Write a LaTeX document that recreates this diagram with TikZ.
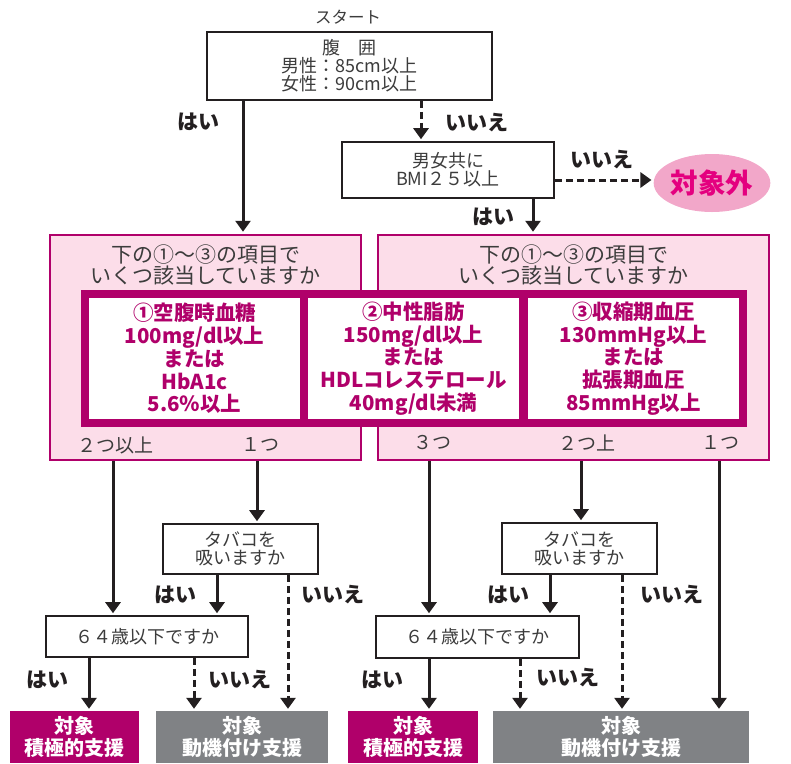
\documentclass[tikz,border=0pt]{standalone}
\usepackage{fontspec}
\setmainfont{Noto Sans CJK JP}
\usetikzlibrary{arrows.meta,shapes.geometric}
\definecolor{mag}{HTML}{B0006A}
\definecolor{pinkbg}{HTML}{FCDDE9}
\definecolor{ellfill}{HTML}{F2A7C9}
\definecolor{hotpink}{HTML}{E4007F}
\definecolor{grayb}{HTML}{808285}
\definecolor{txt}{HTML}{3C3C3C}
\definecolor{lineblk}{HTML}{231F20}
\begin{document}
\begin{tikzpicture}[x=1pt,y=-1pt,
  box/.style={draw=lineblk, line width=1.6pt, fill=white, text=txt, align=center, inner sep=0pt, font=\fontsize{18}{18}\selectfont},
  pinkbox/.style={draw=mag, line width=2.5pt, fill=pinkbg, inner sep=0pt},
  band/.style={fill=mag, inner sep=0pt},
  inbox/.style={fill=white, text=mag, inner sep=0pt, align=center, font=\bfseries\fontsize{20.5}{22.7}\selectfont},
  head/.style={text=txt, align=center, inner sep=0pt, font=\fontsize{21}{21}\selectfont},
  cnt/.style={text=txt, inner sep=0pt, font=\fontsize{19}{19}\selectfont},
  lbl/.style={text=lineblk, inner sep=0pt, font=\bfseries\fontsize{21}{21}\selectfont},
  arr/.style={line width=3pt, draw=lineblk, shorten >=2pt, -{Triangle[width=15pt,length=11pt]}},
  darr/.style={arr, dash pattern=on 7pt off 4pt},
  res/.style={text=white, inner sep=0pt, align=center, font=\bfseries\fontsize{20}{22}\selectfont}
]
\useasboundingbox (0,0) rectangle (791,763);

% start
\node[text=txt, inner sep=0pt, font=\fontsize{16.5}{16.5}\selectfont] (start) at (348,17) {スタート};
\node[box, minimum width=285, minimum height=68] (top) at (349.5,66) {腹\quad 囲\\男性：85cm以上\\女性：90cm以上};
\node[box, minimum width=212, minimum height=56] (bmi) at (448,170) {男女共に\\BMI２５以上};
\node[ellipse, fill=ellfill, minimum width=116, minimum height=58, inner sep=0pt, text=hotpink, font=\bfseries\fontsize{27.5}{27.5}\selectfont] (out) at (712,183) {対象外};

% pink boxes
\node[pinkbox, minimum width=311, minimum height=225] (lp) at (205.5,347.5) {};
\node[pinkbox, minimum width=391, minimum height=225] (rp) at (573.5,347.5) {};
\node[head] (lph) at (205.5,265) {下の①～③の項目で\\いくつ該当していますか};
\node[head] (rph) at (573.5,265) {下の①～③の項目で\\いくつ該当していますか};
\node[band, minimum width=666, minimum height=137] (band) at (414,358.5) {};
\node[inbox, minimum width=211, minimum height=121] (c1) at (194.5,358.5) {①空腹時血糖\\100mg/dl以上\\または\\HbA1c\\5.6％以上};
\node[inbox, minimum width=211, minimum height=121] (c2) at (413.5,358.5) {②中性脂肪\\150mg/dl以上\\または\\HDLコレステロール\\40mg/dl未満};
\node[inbox, minimum width=211, minimum height=121] (c3) at (633.5,358.5) {③収縮期血圧\\130mmHg以上\\または\\拡張期血圧\\85mmHg以上};
\node[cnt] (n1) at (115,445) {２つ以上};
\node[cnt] (n2) at (260,445) {１つ};
\node[cnt] (n3) at (432,443) {３つ};
\node[cnt] (n4) at (587,443) {２つ上};
\node[cnt] (n5) at (720,443) {１つ};

% lower boxes
\node[box, minimum width=155, minimum height=50] (tabL) at (240.5,549) {タバコを\\吸いますか};
\node[box, minimum width=155, minimum height=51] (tabR) at (579.5,548.5) {タバコを\\吸いますか};
\node[box, minimum width=202, minimum height=41] (ageL) at (147,636.5) {６４歳以下ですか};
\node[box, minimum width=203, minimum height=42] (ageR) at (477.5,637) {６４歳以下ですか};
\node[res, fill=mag, minimum width=129, minimum height=52] (mL) at (74.5,737) {対象\\積極的支援};
\node[res, fill=grayb, minimum width=172, minimum height=52] (gL) at (242,737) {対象\\動機付け支援};
\node[res, fill=mag, minimum width=130, minimum height=52] (mR) at (413,737) {対象\\積極的支援};
\node[res, fill=grayb, minimum width=256, minimum height=52] (gR) at (621,737) {対象\\動機付け支援};

% column coordinates
\coordinate (xa) at (243,0);
\coordinate (xb) at (421,0);
\coordinate (xc) at (533,0);
\coordinate (yr) at (0,180);
\coordinate (x1) at (113,0);
\coordinate (x2) at (257,0);
\coordinate (x3) at (217,0);
\coordinate (x4) at (288,0);
\coordinate (x5) at (89,0);
\coordinate (x6) at (194,0);
\coordinate (x7) at (429,0);
\coordinate (x8) at (581,0);
\coordinate (x9) at (550,0);
\coordinate (x10) at (622,0);
\coordinate (x11) at (719,0);
\coordinate (x12) at (520,0);

% connectors
\draw[arr] (top.south -| xa) -- (lp.north -| xa);
\draw[darr] (top.south -| xb) -- (bmi.north -| xb);
\draw[arr] (bmi.south -| xc) -- (rp.north -| xc);
\draw[darr] (bmi.east |- yr) -- (out.west |- yr);

\draw[arr] (lp.south -| x1) -- (ageL.north -| x1);
\draw[arr] (lp.south -| x2) -- (tabL.north -| x2);
\draw[arr] (tabL.south -| x3) -- (ageL.north -| x3);
\draw[darr] (tabL.south -| x4) -- (gL.north -| x4);
\draw[arr] (ageL.south -| x5) -- (mL.north -| x5);
\draw[darr] (ageL.south -| x6) -- (gL.north -| x6);

\draw[arr] (rp.south -| x7) -- (ageR.north -| x7);
\draw[arr] (rp.south -| x8) -- (tabR.north -| x8);
\draw[arr] (tabR.south -| x9) -- (ageR.north -| x9);
\draw[darr] (tabR.south -| x10) -- (gR.north -| x10);
\draw[arr] (rp.south -| x11) -- (gR.north -| x11);
\draw[arr] (ageR.south -| x7) -- (mR.north -| x7);
\draw[darr] (ageR.south -| x12) -- (gR.north -| x12);

% labels
\node[lbl] (l1) at (198,122) {はい};
\node[lbl] (l2) at (477,123) {いいえ};
\node[lbl] (l3) at (602,160) {いいえ};
\node[lbl] (l4) at (493,217) {はい};
\node[lbl] (l5) at (175,595) {はい};
\node[lbl] (l6) at (333,595) {いいえ};
\node[lbl] (l7) at (47,680) {はい};
\node[lbl] (l8) at (240,680) {いいえ};
\node[lbl] (l9) at (508,595) {はい};
\node[lbl] (l10) at (672,595) {いいえ};
\node[lbl] (l11) at (382,680) {はい};
\node[lbl] (l12) at (568,678) {いいえ};
\end{tikzpicture}
\end{document}
